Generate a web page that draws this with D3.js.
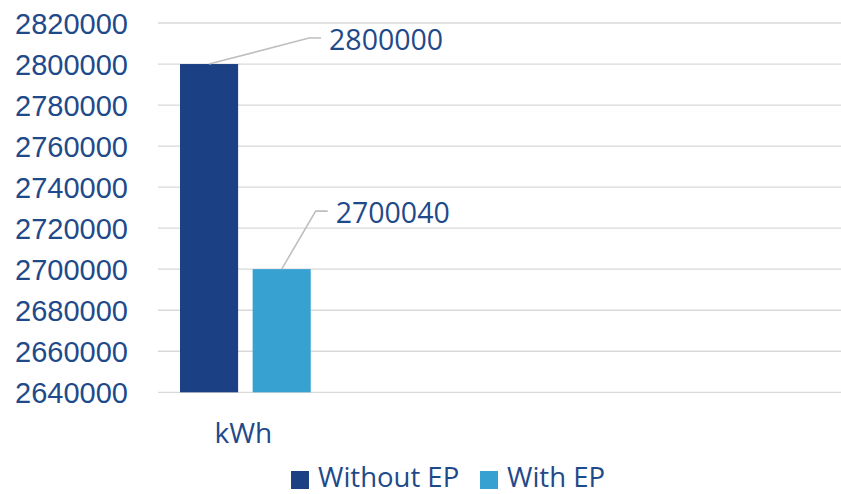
<!DOCTYPE html>
<html>
<head>
<meta charset="utf-8">
<script src="https://cdn.jsdelivr.net/npm/d3@7"></script>
<style>
  html, body { margin: 0; padding: 0; background: #fff; }
  svg { display: block; font-family: "Open Sans", "Noto Sans", sans-serif; }
</style>
</head>
<body>
<svg id="chart" width="841" height="494"></svg>
<script>
const categories = ["kWh"];
const seriesNames = ["Without EP", "With EP"];
const seriesValues = [[2800000], [2700040]];
const seriesColors = ["#1b4084", "#37a2d1"];
const yTicks = [2640000, 2660000, 2680000, 2700000, 2720000, 2740000, 2760000, 2780000, 2800000, 2820000];
const labelOffsets = [[100, -26], [34, -58]]; // leader line end relative to bar top

const W = 841, H = 494;
const plot = { left: 158, right: 841, top: 23, bottom: 392.3 };
const textColor = "#1f4a8a";

const svg = d3.select("#chart");

const y = d3.scaleLinear().domain([2640000, 2820000]).range([plot.bottom, plot.top]);
// category band occupies one quarter of the plot width (as in the original layout)
const bandW = (plot.right - plot.left) / 4;
const x0 = d3.scaleBand().domain(categories).range([plot.left, plot.left + bandW]).paddingInner(0).paddingOuter(0);
const x1 = d3.scaleBand().domain(seriesNames).range([22, bandW - 18]).paddingInner(0.2).paddingOuter(0);

// gridlines
svg.append("g").selectAll("line").data(yTicks).join("line")
  .attr("x1", plot.left).attr("x2", plot.right)
  .attr("y1", d => y(d)).attr("y2", d => y(d))
  .attr("stroke", "#d9d9d9").attr("stroke-width", 1.3);

// y axis labels
const yAxis = d3.axisLeft(y).tickValues(yTicks).tickFormat(d3.format("d")).tickSize(0).tickPadding(0);
const yg = svg.append("g").attr("transform", `translate(128,0)`).call(yAxis);
yg.select(".domain").remove();
yg.selectAll("text").attr("fill", textColor).attr("font-size", 29).attr("dy", "0.35em");

// bars
const groups = svg.append("g").selectAll("g").data(categories).join("g")
  .attr("transform", d => `translate(${x0(d)},0)`);
seriesNames.forEach((s, si) => {
  groups.append("rect")
    .attr("x", x1(s))
    .attr("width", x1.bandwidth())
    .attr("y", (d, ci) => y(seriesValues[si][ci]))
    .attr("height", (d, ci) => y.range()[0] - y(seriesValues[si][ci]))
    .attr("fill", seriesColors[si]);
});

// data labels with leader lines
seriesNames.forEach((s, si) => {
  categories.forEach((c, ci) => {
    const v = seriesValues[si][ci];
    const bx = x0(c) + x1(s) + x1.bandwidth() / 2;
    const by = y(v);
    const [dx, dy] = labelOffsets[si];
    const ex = bx + dx, ey = by + dy;
    svg.append("polyline")
      .attr("points", `${bx},${by} ${ex},${ey} ${ex + 12},${ey}`)
      .attr("fill", "none").attr("stroke", "#bfbfbf").attr("stroke-width", 1.6);
    svg.append("text")
      .attr("x", ex + 20).attr("y", ey + 2).attr("dy", "0.35em")
      .attr("fill", textColor).attr("font-size", 28.5)
      .text(d3.format("d")(v));
  });
});

// x category labels
svg.append("g").selectAll("text").data(categories).join("text")
  .attr("x", d => x0(d) + bandW / 2)
  .attr("y", 443)
  .attr("text-anchor", "middle")
  .attr("fill", textColor).attr("font-size", 28)
  .text(d => d);

// legend
const legendItems = [{ name: seriesNames[0], x: 291 }, { name: seriesNames[1], x: 480 }];
const lg = svg.append("g");
legendItems.forEach((it, i) => {
  lg.append("rect").attr("x", it.x).attr("y", 471).attr("width", 18).attr("height", 18).attr("fill", seriesColors[i]);
  lg.append("text").attr("x", it.x + 27).attr("y", 487).attr("fill", textColor).attr("font-size", 27.5).text(it.name);
});
</script>
</body>
</html>
